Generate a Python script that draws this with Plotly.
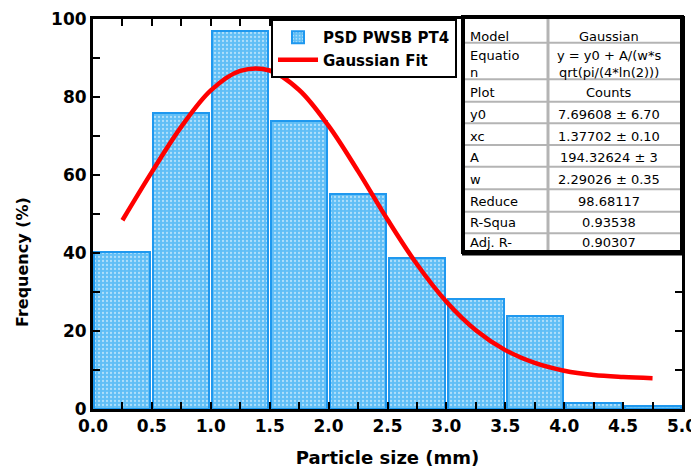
import plotly.graph_objects as go

# ---- data ----
bin_centers = [0.25, 0.75, 1.25, 1.75, 2.25, 2.75, 3.25, 3.75, 4.25, 4.75]
frequency = [40.3, 75.9, 96.9, 73.8, 55.1, 38.7, 28.2, 23.8, 1.5, 0.8]

fit_x = [0.25, 0.5, 0.75, 1.0, 1.25, 1.5, 1.75, 2.0, 2.25, 2.5, 2.75, 3.0,
         3.25, 3.5, 3.75, 4.0, 4.25, 4.5, 4.75]
fit_y = [48.4, 60.8, 72.4, 81.7, 86.7, 86.8, 81.8, 72.6, 61.0, 48.6, 37.1,
         27.5, 20.2, 15.1, 11.8, 9.8, 8.7, 8.2, 7.9]

x_ticks = [0.0, 0.5, 1.0, 1.5, 2.0, 2.5, 3.0, 3.5, 4.0, 4.5, 5.0]
x_ticklabels = ["0.0", "0.5", "1.0", "1.5", "2.0", "2.5", "3.0", "3.5", "4.0", "4.5", "5.0"]
y_ticks = [0, 20, 40, 60, 80, 100]

table_labels = ["Model", "Equatio<br>n", "Plot", "y0", "xc", "A", "w",
                "Reduce", "R-Squa", "Adj. R-"]
table_values = ["Gaussian", "y = y0 + A/(w*s<br>qrt(pi/(4*ln(2)))", "Counts",
                "7.69608 ± 6.70", "1.37702 ± 0.10", "194.32624 ± 3",
                "2.29026 ± 0.35", "98.68117", "0.93538", "0.90307"]

# page has an 8px body margin -> figure is drawn at (8, 8)
OFF = 8
W, H = 699 - OFF, 475 - OFF
L, R, T, B = 93 - OFF, 17, 19 - OFF, 66
PW = W - L - R
PH = H - T - B


def px(X):  # page pixel x -> paper
    return (X - OFF - L) / PW


def py(Y):  # page pixel y -> paper
    return (H - B - (Y - OFF)) / PH


FONT = "DejaVu Sans, Arial, sans-serif"

fig = go.Figure()
fig.add_trace(go.Bar(
    x=bin_centers, y=frequency, width=0.475,
    name="<b>PSD PWSB PT4</b>",
    marker=dict(color="#60bef6",
                line=dict(color="#1f98ef", width=2),
                pattern=dict(shape=".", fgcolor="white", bgcolor="#60bef6",
                             size=4, solidity=0.25)),
))
fig.add_trace(go.Scatter(
    x=fit_x, y=fit_y, mode="lines", line_shape="spline",
    name="<b>Gaussian Fit</b>",
    line=dict(color="#ff0000", width=4.5),
))

axis_common = dict(
    showline=True, linecolor="black", linewidth=3, mirror="allticks",
    ticks="inside", ticklen=7, tickwidth=2, tickcolor="black",
    showgrid=False, zeroline=False, automargin=False,
    tickfont=dict(family=FONT, size=17, color="black", weight="bold"),
)

fig.update_xaxes(range=[0, 5], tickvals=x_ticks, ticktext=x_ticklabels,
                 minor=dict(dtick=0.25, ticks="inside", ticklen=7, tickwidth=2,
                            tickcolor="black"),
                 title=dict(text="Particle size (mm)",
                            font=dict(family=FONT, size=18, color="black", weight="bold"),
                            standoff=16),
                 **axis_common)
fig.update_yaxes(range=[0, 100], tickvals=y_ticks,
                 minor=dict(dtick=10, ticks="inside", ticklen=7, tickwidth=2,
                            tickcolor="black"),
                 **axis_common)

# ---- parameter table (fit report) ----
tl, tr, tt, tb = 463, 682, 17, 252
col = 548
row_lines = [42.7, 79.3, 101.7, 123.3, 145, 166.7, 189.3, 211.7, 233.3]
text_y = [37, 64, 92, 114, 136, 157, 179, 201, 223, 243]

shapes = [
    dict(type="rect", xref="paper", yref="paper",
         x0=px(tl), x1=px(tr), y0=py(tb), y1=py(tt),
         fillcolor="white", line=dict(color="black", width=4), layer="above"),
]
for ry in row_lines:
    shapes.append(dict(type="line", xref="paper", yref="paper",
                       x0=px(tl + 2), x1=px(tr - 2), y0=py(ry), y1=py(ry),
                       line=dict(color="#b4b4b4", width=2), layer="above"))
shapes.append(dict(type="line", xref="paper", yref="paper",
                   x0=px(col), x1=px(col), y0=py(tb - 2), y1=py(tt + 2),
                   line=dict(color="#b4b4b4", width=3), layer="above"))
# drop shadow of the table
shapes.append(dict(type="line", xref="paper", yref="paper",
                   x0=px(tl - 1), x1=px(tr), y0=py(tb + 2), y1=py(tb + 2),
                   line=dict(color="black", width=3), layer="above"))

annotations = []
for lab, val, ty in zip(table_labels, table_values, text_y):
    annotations.append(dict(xref="paper", yref="paper", x=px(468), y=py(ty),
                            text=lab, showarrow=False, xanchor="left", yanchor="middle",
                            align="left",
                            font=dict(family=FONT, size=13, color="black")))
    annotations.append(dict(xref="paper", yref="paper", x=px(609), y=py(ty),
                            text=val, showarrow=False, xanchor="center", yanchor="middle",
                            align="center",
                            font=dict(family=FONT, size=13, color="black")))

# y-axis title (sits below the vertical centre in the reference)
annotations.append(dict(xref="paper", yref="paper", x=px(22), y=py(262),
                        text="Frequency (%)", textangle=-90, showarrow=False,
                        xanchor="center", yanchor="middle",
                        font=dict(family=FONT, size=16, color="black", weight="bold")))

fig.update_layout(
    width=W, height=H,
    margin=dict(l=L, r=R, t=T, b=B),
    paper_bgcolor="white", plot_bgcolor="white",
    bargap=0,
    showlegend=True,
    legend=dict(x=px(271), y=1, xanchor="left", yanchor="top",
                bgcolor="white", bordercolor="black", borderwidth=2,
                font=dict(family=FONT, size=15, color="black"),
                itemwidth=40, tracegroupgap=0),
    shapes=shapes,
    annotations=annotations,
)

fig.write_html("out.html")
